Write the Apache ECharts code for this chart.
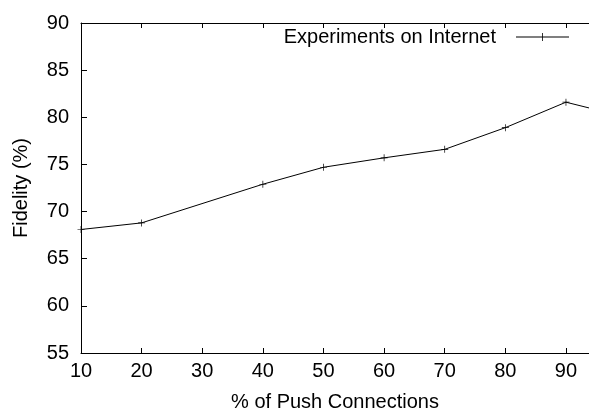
<!DOCTYPE html>
<html>
<head>
<meta charset="utf-8">
<script src="https://cdn.jsdelivr.net/npm/echarts@6/dist/echarts.min.js"></script>
<style>html,body{margin:0;padding:0;background:#fff}#c{width:589px;height:410px}</style>
</head>
<body>
<div id="c"></div>
<script>
var seriesName = 'Experiments on Internet';
var xValues = [10, 20, 40, 50, 60, 70, 80, 90, 100];
var fidelity = [68.1, 68.8, 72.9, 74.7, 75.7, 76.6, 78.9, 81.6, 80.0];
var xTicks = [10, 20, 30, 40, 50, 60, 70, 80, 90];
var yTicks = [55, 60, 65, 70, 75, 80, 85, 90];
var xTitle = '% of Push Connections';
var yTitle = 'Fidelity (%)';

var font = 'Liberation Sans, Arial, Helvetica, sans-serif';
var fs = 20;
var plus = 'path://M4.5,0H5.5V10H4.5Z M0,4.5H10V5.5H0Z';
var chart = echarts.init(document.getElementById('c'), null, {renderer: 'canvas'});
chart.setOption({
  animation: false,
  backgroundColor: '#fff',
  grid: {left: 81, top: 23, right: 0, bottom: 57, containLabel: false, outerBoundsMode: 'none'},
  legend: {
    right: 15, top: 22,
    align: 'right',
    itemWidth: 53, itemHeight: 8,
    itemGap: 0,
    textStyle: {fontFamily: font, fontSize: fs, color: '#000', padding: [0, 15, 0, 0]},
    data: [{name: seriesName, icon: 'path://M0,3.6H53V4.4H0Z M26.1,0H26.9V8H26.1Z', itemStyle: {color: '#000'}}]
  },
  xAxis: [{
    type: 'value', min: 10, max: 93.8, interval: 10,
    position: 'bottom',
    name: xTitle, nameLocation: 'middle', nameGap: 39,
    nameTextStyle: {fontFamily: font, fontSize: fs, color: '#000'},
    axisLine: {show: true, onZero: false, lineStyle: {color: '#000', width: 1}},
    axisTick: {inside: true, length: 5, lineStyle: {color: '#000'}, customValues: xTicks},
    axisLabel: {fontFamily: font, fontSize: fs, color: '#000', margin: 8, customValues: xTicks},
    splitLine: {show: false}
  }, {
    type: 'value', min: 10, max: 93.8, interval: 10,
    position: 'top',
    axisLine: {show: true, onZero: false, lineStyle: {color: '#000', width: 1}},
    axisTick: {inside: true, length: 5, lineStyle: {color: '#000'}, customValues: xTicks},
    axisLabel: {show: false},
    splitLine: {show: false}
  }],
  yAxis: {
    type: 'value', min: 55, max: 90, interval: 5,
    name: yTitle, nameLocation: 'middle', nameGap: 50,
    nameTextStyle: {fontFamily: font, fontSize: fs, color: '#000'},
    axisLine: {show: true, lineStyle: {color: '#000', width: 1}},
    axisTick: {inside: true, length: 6, lineStyle: {color: '#000'}, customValues: yTicks},
    axisLabel: {fontFamily: font, fontSize: fs, color: '#000', margin: 12, customValues: yTicks},
    splitLine: {show: false}
  },
  series: [{
    name: seriesName,
    type: 'line',
    xAxisIndex: 0,
    data: xValues.map(function (x, i) { return [x, fidelity[i]]; }),
    clip: true,
    symbol: plus, symbolSize: 7,
    showAllSymbol: true,
    lineStyle: {color: '#000', width: 1},
    itemStyle: {color: '#000'}
  }]
});
</script>
</body>
</html>
